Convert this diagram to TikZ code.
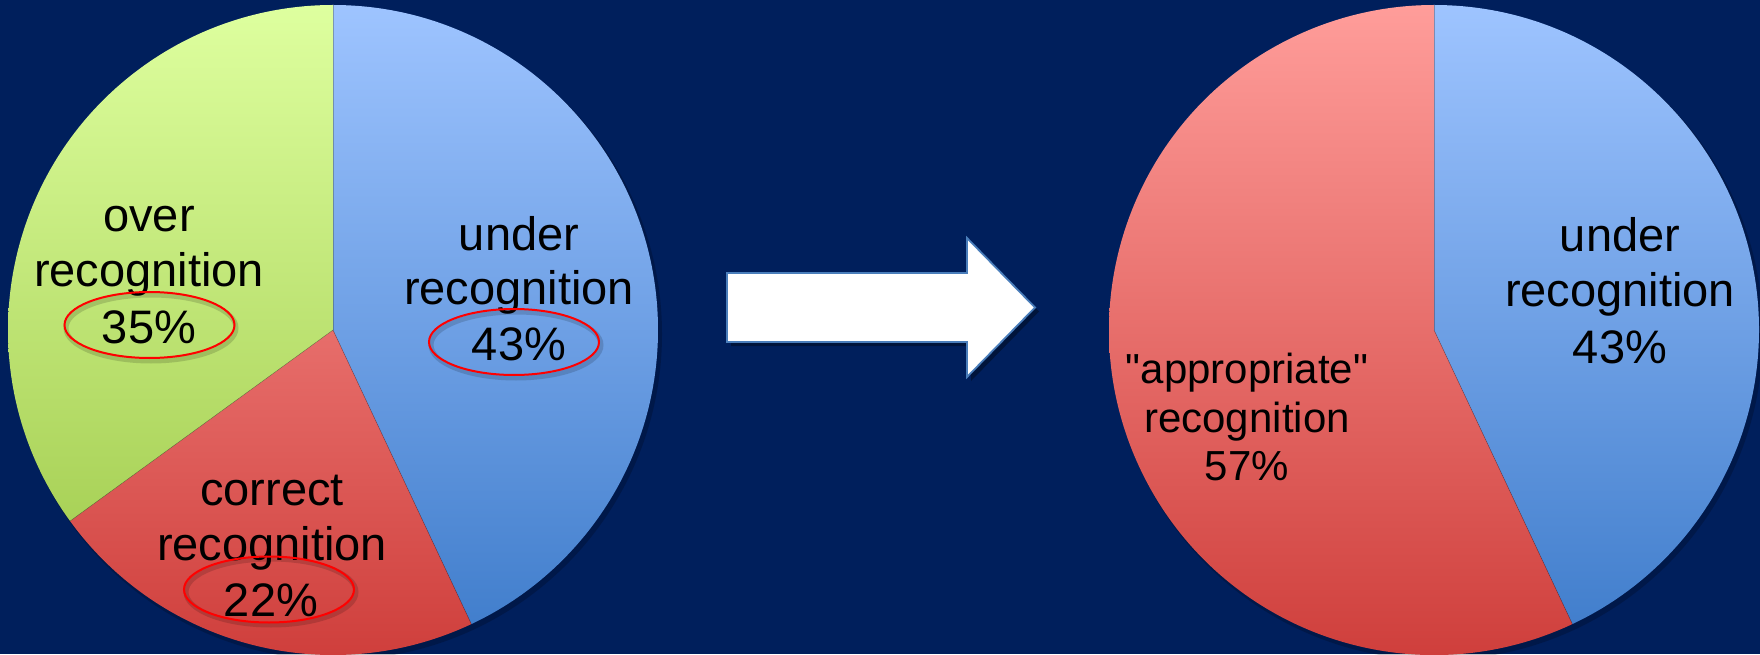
\documentclass[tikz,border=0pt]{standalone}
\usepackage{fontspec}
\setmainfont{Liberation Sans}
\usetikzlibrary{shadows}
\definecolor{bg}{HTML}{001F5C}
\definecolor{bluetop}{HTML}{9EC4FF}
\definecolor{bluebot}{HTML}{3D7BCA}
\definecolor{redtop}{HTML}{FF9D9A}
\definecolor{redbot}{HTML}{CF3F3C}
\definecolor{greentop}{HTML}{DEFF9F}
\definecolor{greenbot}{HTML}{9BC645}
\definecolor{arrowedge}{HTML}{4A7EBB}
\tikzset{
  lbl/.style={anchor=base, inner sep=0pt, text=black, font=\fontsize{47}{56}\selectfont},
  lblsmall/.style={anchor=base, inner sep=0pt, text=black, font=\fontsize{42}{49}\selectfont},
  ring/.style={draw=red, line width=2pt},
  ringshadow/.style={draw=black, opacity=0.15, line width=5pt},
  slicesep/.style={draw=black, opacity=0.25, line width=0.6pt},
}
\begin{document}
\begin{tikzpicture}[x=1pt,y=1pt]
\fill[bg] (0,0) rectangle (1760,654);
\useasboundingbox (0,0) rectangle (1760,654);

% ---------- left pie ----------
\coordinate (L) at (333,324);
\fill[black, opacity=0.2] (336,320) circle[radius=326];
\begin{scope}
  \clip (L) -- ++(90:325) arc[start angle=90, end angle=-64.8, radius=325] -- cycle;
  \shade[top color=bluetop, bottom color=bluebot] (8,-1) rectangle (658,649);
\end{scope}
\begin{scope}
  \clip (L) -- ++(-64.8:325) arc[start angle=-64.8, end angle=-144, radius=325] -- cycle;
  \shade[top color=redtop, bottom color=redbot] (8,-1) rectangle (658,649);
\end{scope}
\begin{scope}
  \clip (L) -- ++(-144:325) arc[start angle=-144, end angle=-270, radius=325] -- cycle;
  \shade[top color=greentop, bottom color=greenbot] (8,-1) rectangle (658,649);
\end{scope}
\draw[slicesep] (L) -- ++(90:325);
\draw[slicesep] (L) -- ++(-64.8:325);
\draw[slicesep] (L) -- ++(-144:325);

\node[lbl] (ov1) at (149,422) {over};
\node[lbl] (ov2) at (149,367) {recognition};
\node[lbl] (ov3) at (149,311) {35\%};
\node[lbl] (un1) at (519,403) {under};
\node[lbl] (un2) at (519,349) {recognition};
\node[lbl] (un3) at (519,294) {43\%};
\node[lbl] (co1) at (272,149) {correct};
\node[lbl] (co2) at (272,94) {recognition};
\node[lbl] (co3) at (271,38) {22\%};

\draw[ringshadow] (151,326) ellipse[x radius=85, y radius=33];
\draw[ringshadow] (516,309) ellipse[x radius=85, y radius=33];
\draw[ringshadow] (271,62) ellipse[x radius=85, y radius=33];
\draw[ring] (149.5,329) ellipse[x radius=85, y radius=33];
\draw[ring] (514,312) ellipse[x radius=85, y radius=33];
\draw[ring] (269,64.5) ellipse[x radius=85, y radius=33];

% ---------- arrow ----------
\fill[black, opacity=0.35] (731,377) -- (971,377) -- (971,412) -- (1039,342.5) -- (971,273) -- (971,308) -- (731,308) -- cycle;
\draw[draw=arrowedge, line width=1.8pt, fill=white, line join=miter]
  (727,381) -- (967,381) -- (967,416) -- (1035,346.5) -- (967,277) -- (967,312) -- (727,312) -- cycle;

% ---------- right pie ----------
\coordinate (R) at (1434,324);
\fill[black, opacity=0.2] (1437,320) circle[radius=326];
\begin{scope}
  \clip (R) -- ++(90:325) arc[start angle=90, end angle=-64.8, radius=325] -- cycle;
  \shade[top color=bluetop, bottom color=bluebot] (1109,-1) rectangle (1759,649);
\end{scope}
\begin{scope}
  \clip (R) -- ++(-64.8:325) arc[start angle=-64.8, end angle=-270, radius=325] -- cycle;
  \shade[top color=redtop, bottom color=redbot] (1109,-1) rectangle (1759,649);
\end{scope}
\draw[slicesep] (R) -- ++(90:325);
\draw[slicesep] (R) -- ++(-64.8:325);

\node[lbl] (ru1) at (1620,402) {under};
\node[lbl] (ru2) at (1620,347) {recognition};
\node[lbl] (ru3) at (1620,291) {43\%};
\node[lblsmall] (ap1) at (1247,271) {\textquotedbl appropriate\textquotedbl};
\node[lblsmall] (ap2) at (1247,222) {recognition};
\node[lblsmall] (ap3) at (1247,174) {57\%};
\end{tikzpicture}
\end{document}
